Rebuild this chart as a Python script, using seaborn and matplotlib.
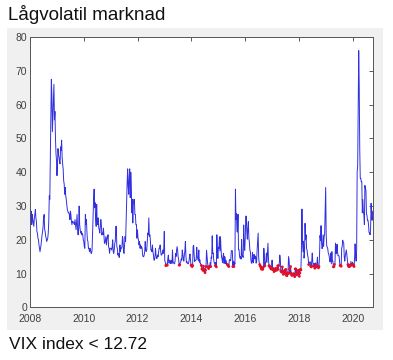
import pandas as pd
import matplotlib.pyplot as plt
from matplotlib.patches import Rectangle
import seaborn as sns

# weekly VIX closes, one list per year
vix_2008 = [29.0, 25.5, 28.5, 24.5, 27.5, 26.0, 25.0, 24.0, 26.5, 27.5, 29.0, 26.5, 25.5,
            22.5, 22.0, 20.5, 20.0, 18.5, 17.5, 16.5, 17.5, 18.5, 20.0, 21.5, 22.5, 24.0,
            26.5, 27.5, 23.0, 22.5, 21.0, 20.5, 19.5, 20.0, 20.5, 22.0, 25.5, 33.0, 32.0,
            45.0, 56.0, 67.5, 63.0, 52.0, 57.0, 61.0, 66.0, 55.5, 58.0, 50.0, 45.5, 43.5]
vix_2009 = [39.0, 42.5, 47.0, 45.0, 44.5, 43.0, 42.5, 47.5, 46.5, 49.5, 44.5, 42.5, 41.0,
            37.5, 36.5, 33.5, 35.5, 33.0, 32.0, 30.5, 29.0, 28.5, 28.0, 28.0, 27.5, 26.0,
            28.5, 27.5, 25.5, 24.5, 25.5, 25.5, 25.0, 25.0, 24.5, 26.0, 24.5, 23.0, 25.5,
            27.5, 23.0, 21.5, 23.5, 30.0, 24.5, 23.0, 22.0, 22.5, 21.5, 22.0, 21.5, 20.0]
vix_2010 = [19.5, 18.0, 17.5, 27.5, 24.5, 26.0, 22.5, 20.0, 19.5, 17.5, 17.5, 16.5, 17.5,
            17.0, 16.0, 16.0, 17.0, 22.0, 26.0, 32.0, 35.0, 29.5, 31.0, 26.0, 24.0, 30.5,
            25.0, 24.5, 26.5, 23.5, 23.0, 22.0, 24.0, 26.0, 24.5, 21.5, 22.0, 21.5, 23.5,
            21.5, 19.0, 19.0, 20.0, 21.0, 18.5, 20.5, 20.5, 21.5, 18.0, 17.5, 16.0, 17.5]
vix_2011 = [17.5, 17.0, 18.0, 20.0, 16.5, 16.0, 17.0, 19.0, 19.5, 24.0, 24.0, 18.0,
            17.5, 15.5, 16.0, 15.0, 14.8, 18.5, 16.5, 17.5, 17.5, 18.0, 21.0, 20.0, 16.5,
            16.0, 18.5, 21.0, 19.5, 25.5, 32.0, 37.0, 41.0, 36.0, 33.5, 38.5, 41.0, 32.5,
            40.0, 36.5, 28.0, 32.0, 25.0, 30.5, 32.0, 32.0, 27.5, 27.5, 24.5, 24.5, 20.5, 23.0]
vix_2012 = [20.5, 20.0, 18.5, 19.5, 17.5, 18.5, 17.5, 18.0, 17.5, 15.5, 15.0, 15.0, 15.5,
            16.5, 19.5, 17.0, 16.5, 17.0, 19.5, 22.0, 21.5, 26.5, 21.0, 21.5, 20.0, 17.0,
            17.0, 16.5, 18.5, 16.5, 15.5, 14.0, 14.0, 15.2, 17.5, 15.5, 14.5, 14.5, 15.5,
            15.0, 16.5, 17.5, 17.5, 18.5, 16.5, 15.5, 15.5, 16.0, 17.0, 16.0, 17.5, 22.5]
vix_2013 = [14.0, 13.4, 12.4, 12.5, 12.9, 12.5, 14.5, 15.5, 13.1, 13.2, 14.0, 13.0, 13.4,
            13.9, 13.0, 17.0, 13.6, 13.2, 13.0, 12.9, 13.8, 16.0, 15.1, 17.0, 18.0, 16.9,
            14.9, 14.0, 12.5, 12.6, 13.2, 13.5, 14.4, 14.0, 17.0, 15.8, 14.2, 13.7, 15.5,
            16.7, 19.5, 15.5, 13.3, 13.6, 13.0, 12.9, 13.0, 13.7, 15.0, 15.8, 13.8, 12.5]
vix_2014 = [12.4, 12.1, 12.4, 18.1, 18.4, 15.3, 13.6, 14.0, 14.0, 14.1, 17.8, 15.0, 14.4,
            13.9, 17.0, 13.4, 14.1, 12.9, 12.9, 12.4, 11.4, 11.4, 11.0, 12.2, 10.9, 11.3,
            10.3, 11.0, 12.1, 16.9, 15.1, 13.2, 12.0, 11.5, 12.0, 12.1, 13.3, 12.1, 14.9,
            14.6, 21.2, 16.0, 16.1, 14.0, 13.1, 13.1, 12.4, 13.3, 12.0, 21.5, 16.5, 14.5]
vix_2015 = [17.8, 17.5, 20.9, 16.7, 20.9, 17.3, 15.0, 14.3, 13.3, 15.2, 16.0, 13.0, 15.1,
            14.7, 13.0, 13.9, 12.9, 12.7, 12.9, 12.4, 12.1, 13.8, 14.2, 13.8, 14.0, 16.8,
            16.8, 16.8, 12.1, 13.7, 12.1, 13.4, 12.8, 35.0, 26.1, 27.8, 22.5, 22.3, 27.6,
            17.1, 17.1, 15.1, 14.5, 15.1, 14.3, 20.1, 15.5, 15.1, 14.8, 24.4, 18.7, 16.9]
vix_2016 = [20.7, 27.0, 27.0, 22.3, 20.2, 23.4, 25.4, 20.5, 19.4, 16.9, 16.5, 14.0, 13.1,
            13.1, 16.3, 13.6, 13.2, 15.7, 14.7, 14.4, 15.2, 13.1, 13.5, 17.0, 19.4, 22.0,
            14.8, 13.2, 12.7, 12.3, 12.0, 11.4, 11.6, 11.3, 11.3, 11.9, 17.5, 15.4, 12.3,
            13.3, 13.5, 16.1, 13.3, 16.2, 19.0, 14.2, 12.3, 12.3, 11.9, 11.8, 11.4, 11.4, 14.0]
vix_2017 = [11.3, 11.2, 11.5, 10.6, 10.9, 10.9, 11.5, 11.5, 11.0, 11.3, 12.3, 11.3, 12.4,
            12.9, 15.5, 14.6, 10.8, 10.6, 10.4, 12.0, 10.8, 9.8, 10.7, 10.4, 10.0, 11.2,
            11.2, 9.5, 9.4, 10.3, 10.0, 15.0, 14.3, 11.3, 10.1, 12.1, 10.2, 9.6, 9.5,
            9.7, 9.6, 10.0, 9.8, 9.1, 11.4, 11.4, 9.7, 11.0, 9.6, 10.3, 10.0, 11.0]
vix_2018 = [9.2, 10.2, 11.3, 11.1, 17.3, 29.1, 19.5, 16.5, 19.6, 14.6, 15.8, 24.9, 20.0,
            21.5, 17.4, 16.9, 15.4, 14.8, 12.7, 13.4, 13.2, 13.5, 12.2, 12.0, 13.8, 16.1,
            13.4, 12.2, 12.9, 13.0, 11.6, 13.2, 12.6, 12.0, 12.9, 14.9, 12.1, 11.7, 12.1,
            14.8, 21.3, 19.9, 24.2, 19.3, 17.4, 18.1, 21.5, 18.1, 21.0, 21.6, 28.5, 35.5]
vix_2019 = [21.4, 18.2, 17.8, 17.4, 16.1, 15.7, 14.9, 13.5, 13.6, 16.1, 12.9, 16.5, 13.7,
            13.7, 12.0, 12.1, 12.7, 13.0, 19.0, 16.0, 15.9, 18.7, 16.3, 15.3, 15.4, 15.1,
            13.3, 12.4, 12.4, 12.2, 17.6, 18.0, 19.9, 19.3, 19.0, 15.0, 13.7, 15.3, 16.2,
            17.0, 15.6, 14.3, 12.7, 12.3, 12.1, 12.1, 12.3, 12.6, 13.6, 12.6, 12.5, 13.4]
vix_2020 = [12.6, 12.6, 12.1, 14.6, 18.8, 15.5, 13.7, 17.1, 40.1, 41.9, 57.8, 76.0, 65.5,
            46.8, 38.2, 38.2, 37.2, 37.2, 28.0, 31.9, 28.2, 27.5, 24.5, 36.1, 35.1, 34.7,
            27.7, 27.3, 25.7, 25.8, 24.5, 22.2, 22.1, 21.5, 23.0, 30.8, 26.9, 25.8, 28.5]

years = [2008, 2009, 2010, 2011, 2012, 2013, 2014, 2015, 2016, 2017, 2018, 2019, 2020]
series = [vix_2008, vix_2009, vix_2010, vix_2011, vix_2012, vix_2013, vix_2014,
          vix_2015, vix_2016, vix_2017, vix_2018, vix_2019, vix_2020]
threshold = 12.72
x_ticks = [2008, 2010, 2012, 2014, 2016, 2018, 2020]
y_ticks = [0, 10, 20, 30, 40, 50, 60, 70, 80]

frames = []
for yr, vals in zip(years, series):
    dates = pd.date_range(f"{yr}-01-01", periods=len(vals), freq="W-FRI")
    frames.append(pd.DataFrame({"date": dates, "vix": vals}))
df = pd.concat(frames, ignore_index=True)
df["t"] = df["date"].dt.year + (df["date"].dt.dayofyear - 1) / 365.25
low = df[df["vix"] < threshold]

sns.set_style("white")
plt.rcParams["font.family"] = ["Liberation Sans", "DejaVu Sans"]

fig = plt.figure(figsize=(3.93, 3.6), dpi=100)
# grey figure panel behind the axes (MATLAB look)
fig.patches.append(Rectangle((0.018, 0.083), 0.957, 0.839, transform=fig.transFigure,
                             facecolor="#f0f0f0", edgecolor="none", zorder=-10))
ax = fig.add_axes([0.0763, 0.146, 0.873, 0.751])
ax.set_zorder(5)
ax.set_facecolor("white")

sns.lineplot(data=df, x="t", y="vix", ax=ax, color="#3030e0", lw=0.7, estimator=None)
sns.scatterplot(data=low, x="t", y="vix", ax=ax, color="#e0102a", s=4,
                edgecolor="none", zorder=3)

ax.set_xlim(2008, 2020.75)
ax.set_ylim(0, 80)
ax.set_xticks(x_ticks)
ax.set_yticks(y_ticks)
ax.set_xlabel("")
ax.set_ylabel("")
ax.tick_params(direction="in", top=True, right=True, length=3, width=0.6,
               labelsize=7.5, colors="#404040", pad=2)
ax.tick_params(axis="x", pad=5)
for sp in ax.spines.values():
    sp.set_color("#555555")
    sp.set_linewidth(0.7)

fig.text(0.02, 0.961, "Lågvolatil marknad", fontsize=13.5, va="center", ha="left",
         color="#111111")
fig.text(0.022, 0.044, "VIX index < 12.72", fontsize=12.5, va="center", ha="left",
         color="#111111")

fig.savefig("out.png", dpi=100)
